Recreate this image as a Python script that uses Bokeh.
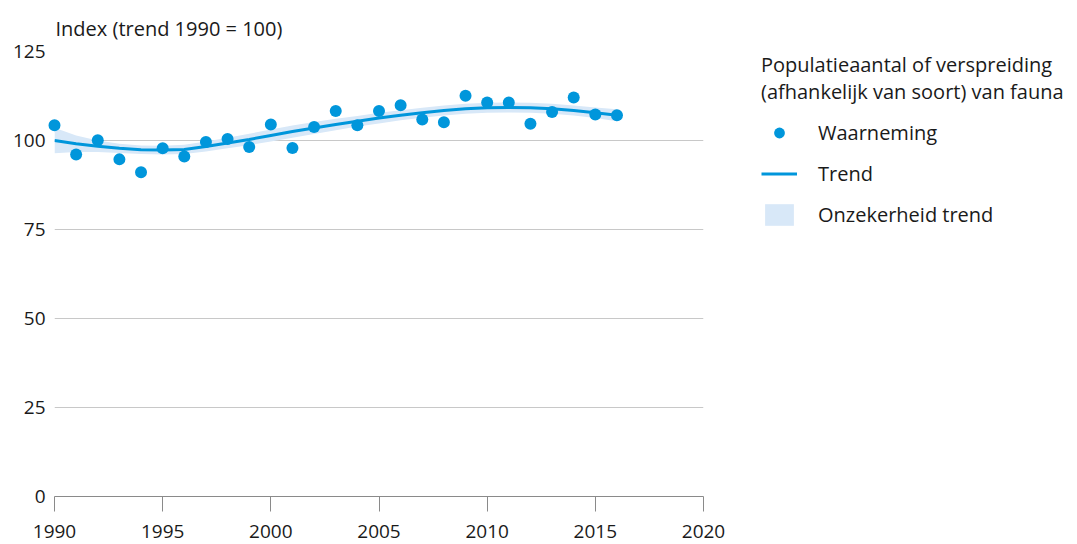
from bokeh.plotting import figure
from bokeh.layouts import row
from bokeh.models import Range1d, Legend, LegendItem, FixedTicker
from bokeh.embed import file_html
from bokeh.resources import INLINE

years = list(range(1990, 2017))
observed = [104.3, 96.1, 100.1, 94.7, 91.1, 97.8, 95.5, 99.6, 100.4, 98.2,
            104.5, 97.9, 103.8, 108.3, 104.3, 108.3, 109.9, 105.9, 105.1, 112.6,
            110.7, 110.7, 104.7, 108.0, 112.1, 107.3, 107.1]
trend = [100.0, 99.1, 98.4, 97.8, 97.4, 97.3, 97.5, 98.3, 99.3, 100.3,
         101.4, 102.5, 103.5, 104.5, 105.4, 106.3, 107.1, 107.8, 108.4, 108.9,
         109.2, 109.3, 109.2, 108.9, 108.4, 107.8, 107.1]
trend_low = [96.4, 96.8, 96.8, 96.5, 96.2, 96.1, 96.2, 96.9, 97.8, 98.7,
             99.7, 100.8, 101.8, 102.9, 103.9, 104.8, 105.7, 106.4, 107.0, 107.5,
             107.8, 107.9, 107.8, 107.5, 107.0, 106.3, 105.4]
trend_high = [103.6, 101.4, 100.0, 99.1, 98.6, 98.5, 98.8, 99.7, 100.8, 101.9,
              103.1, 104.2, 105.2, 106.1, 106.9, 107.8, 108.5, 109.2, 109.8, 110.3,
              110.6, 110.7, 110.6, 110.3, 109.8, 109.3, 108.8]
x_ticks = [1990, 1995, 2000, 2005, 2010, 2015, 2020]
y_ticks = [0, 25, 50, 75, 100, 125]
legend_title = "Populatieaantal of verspreiding\n(afhankelijk van soort) van fauna"
legend_labels = ["Waarneming", "Trend", "Onzekerheid trend"]

FONT = "Open Sans"
BLUE = "#0096db"
BAND = "#d8e8f8"
TXT = "#1a1a1a"

p = figure(width=740, height=544, output_backend="svg", toolbar_location=None,
           x_range=Range1d(1990, 2020), y_range=Range1d(0, 125),
           min_border_left=54, min_border_right=37, min_border_top=51,
           min_border_bottom=48, outline_line_color=None)

band = p.varea(x=years, y1=trend_low, y2=trend_high, fill_color=BAND)
line = p.line(years, trend, line_color=BLUE, line_width=3)
dots = p.scatter(years, observed, size=12, fill_color=BLUE, line_color=None, level="overlay")

p.title.text = "Index (trend 1990 = 100)"
p.title.align = "left"
p.title.offset = 1
p.title.text_font = FONT
p.title.text_font_size = "20px"
p.title.text_font_style = "normal"
p.title.text_color = TXT
p.title.text_line_height = 1.0
p.title.standoff = 20

xa = p.xaxis[0]
xa.ticker = FixedTicker(ticks=x_ticks)
xa.axis_line_color = "#8a8a8a"
xa.major_tick_line_color = "#8a8a8a"
xa.major_tick_out = 15
xa.major_tick_in = 0
xa.minor_tick_line_color = None
xa.major_label_standoff = 13
xa.major_label_text_line_height = 0.8
xa.major_label_text_font = FONT
xa.major_label_text_font_size = "19px"
xa.major_label_text_color = TXT

ya = p.yaxis[0]
ya.ticker = FixedTicker(ticks=y_ticks)
ya.axis_line_color = None
ya.major_tick_line_color = None
ya.major_tick_out = 0
ya.major_tick_in = 0
ya.minor_tick_line_color = None
ya.major_label_standoff = 9
ya.major_label_text_font = FONT
ya.major_label_text_font_size = "19px"
ya.major_label_text_color = TXT

p.xgrid.grid_line_color = None
p.ygrid.ticker = FixedTicker(ticks=y_ticks)
p.ygrid.grid_line_color = "#c8c8c8"
p.ygrid.grid_line_width = 1

# legend panel: a second figure whose ranges keep the series out of view,
# so only the legend (built from the same data and styles) is visible
p2 = figure(width=337, height=544, output_backend="svg", toolbar_location=None,
            x_range=Range1d(0, 1), y_range=Range1d(0, 1), min_border=0,
            outline_line_color=None)
p2.axis.visible = False
p2.grid.visible = False
l_band = p2.varea(x=years, y1=trend_low, y2=trend_high, fill_color=BAND)
l_line = p2.line(years, trend, line_color=BLUE, line_width=3)
l_dots = p2.scatter(years, observed, size=12, fill_color=BLUE, line_color=None)

legend = Legend(
    items=[LegendItem(label=legend_labels[0], renderers=[l_dots]),
           LegendItem(label=legend_labels[1], renderers=[l_line]),
           LegendItem(label=legend_labels[2], renderers=[l_band])],
    title=legend_title,
    location=(21, 268),
    title_text_font=FONT, title_text_font_size="20px", title_text_font_style="normal",
    title_text_color=TXT, title_standoff=14, title_text_line_height=1.5,
    label_text_font=FONT, label_text_font_size="20px", label_text_color=TXT,
    glyph_width=36, glyph_height=27, label_standoff=21, spacing=14,
    padding=0, margin=0, border_line_color=None, background_fill_alpha=0,
)
p2.add_layout(legend, "center")

layout = row(p, p2)
open("out.html", "w").write(file_html(layout, INLINE))
